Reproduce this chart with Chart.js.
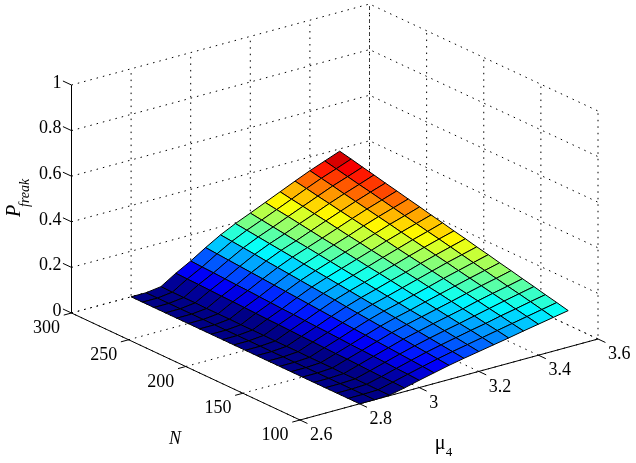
<!DOCTYPE html>
<html>
<head>
<meta charset="utf-8">
<script src="https://cdn.jsdelivr.net/npm/chart.js@4"></script>
<style>
  html, body { margin: 0; padding: 0; background: #fff; }
  #wrap { width: 636px; height: 463px; }
</style>
</head>
<body>
<div id="wrap"><canvas id="surface" width="636" height="463"></canvas></div>
<script>
// Surface data
const muValues = [2.8, 2.85, 2.9, 2.95, 3, 3.05, 3.1, 3.15, 3.2, 3.25, 3.3, 3.35, 3.4, 3.45, 3.5];
const nValues = [100, 110, 120, 130, 140, 150, 160, 170, 180, 190, 200, 210, 220, 230, 240, 250, 260, 270, 280, 290, 300];
// one row per mu, one column per N
const pFreak = [
  [.000, .000, .000, .000, .000, .000, .000, .000, .000, .000, .000, .000, .000, .000, .000, .000, .000, .000, .000, .000, .000],
  [.000, .000, .000, .000, .000, .000, .000, .000, .000, .000, .000, .000, .000, .000, .000, .000, .000, .000, .000, .000, .000],
  [.002, .002, .003, .003, .003, .004, .004, .004, .005, .005, .005, .006, .006, .006, .007, .007, .007, .008, .008, .008, .009],
  [.016, .018, .019, .021, .023, .025, .026, .028, .030, .031, .033, .035, .036, .038, .040, .042, .043, .045, .047, .048, .050],
  [.032, .035, .037, .040, .043, .046, .048, .051, .054, .056, .059, .062, .064, .067, .070, .073, .075, .078, .081, .083, .086],
  [.047, .051, .055, .059, .063, .067, .071, .075, .079, .083, .087, .091, .095, .099, .103, .107, .111, .115, .119, .123, .127],
  [.062, .067, .072, .077, .083, .088, .093, .098, .103, .108, .114, .119, .124, .129, .134, .139, .144, .150, .155, .160, .165],
  [.075, .081, .087, .093, .099, .106, .112, .118, .124, .130, .136, .142, .148, .154, .160, .167, .173, .179, .185, .191, .197],
  [.087, .094, .101, .108, .115, .122, .128, .135, .142, .149, .156, .163, .170, .177, .184, .191, .197, .204, .211, .218, .225],
  [.099, .107, .115, .122, .130, .138, .146, .153, .161, .169, .177, .184, .192, .200, .208, .215, .223, .231, .239, .246, .254],
  [.111, .120, .128, .137, .145, .154, .163, .171, .180, .188, .197, .206, .214, .223, .231, .240, .249, .257, .266, .274, .283],
  [.124, .133, .143, .152, .162, .171, .180, .190, .199, .209, .218, .227, .237, .246, .256, .265, .274, .284, .293, .303, .312],
  [.136, .146, .156, .167, .177, .187, .197, .207, .218, .228, .238, .248, .258, .269, .279, .289, .299, .309, .320, .330, .340],
  [.148, .159, .170, .181, .191, .202, .213, .224, .235, .246, .257, .267, .278, .289, .300, .311, .322, .332, .343, .354, .365],
  [.160, .172, .183, .195, .206, .218, .229, .241, .252, .264, .275, .287, .298, .310, .321, .333, .344, .356, .367, .379, .390]
];

const muTicks = [2.6, 2.8, 3, 3.2, 3.4, 3.6];
const nTicks = [100, 150, 200, 250, 300];
const pTicks = [0, 0.2, 0.4, 0.6, 0.8, 1];
const muTickLabels = ['2.6', '2.8', '3', '3.2', '3.4', '3.6'];
const nTickLabels = ['100', '150', '200', '250', '300'];
const pTickLabels = ['0', '0.2', '0.4', '0.6', '0.8', '1'];

const MU_MIN = 2.6, MU_MAX = 3.6, N_MIN = 100, N_MAX = 300;
const C_MAX = 0.39;

// Orthographic view of the 3d box onto the flat scales
function project(mu, n, p) {
  const u = (mu - MU_MIN) / (MU_MAX - MU_MIN);
  const v = (n - N_MIN) / (N_MAX - N_MIN);
  return {
    x: 300 + 298 * u - 228.5 * v,
    y: 420 - 81 * u - 107 * v - 228 * p
  };
}

// MATLAB jet, 64 levels
function jet(value) {
  const level = Math.min(63, Math.max(0, Math.floor(value / C_MAX * 64)));
  const t = (level + 0.5) / 64;
  const ch = d => Math.round(255 * Math.min(1, Math.max(0, 1.5 - Math.abs(4 * t - d))));
  return `rgb(${ch(3)},${ch(2)},${ch(1)})`;
}

function lineSet(points, opts) {
  return Object.assign({
    data: points,
    showLine: true,
    fill: false,
    pointRadius: 0,
    borderColor: '#000',
    borderWidth: 1,
    order: 1000
  }, opts);
}

const gridDash = { borderDash: [1.5, 5] };
const datasets = [];

// Walls and floor: dotted grid
pTicks.forEach(p => {
  datasets.push(lineSet([project(MU_MIN, N_MAX, p), project(MU_MAX, N_MAX, p), project(MU_MAX, N_MIN, p)], gridDash));
});
muTicks.forEach(mu => {
  datasets.push(lineSet([project(mu, N_MIN, 0), project(mu, N_MAX, 0), project(mu, N_MAX, 1)], gridDash));
});
nTicks.forEach(n => {
  datasets.push(lineSet([project(MU_MIN, n, 0), project(MU_MAX, n, 0), project(MU_MAX, n, 1)], gridDash));
});

// Solid axes and their tick marks
datasets.push(lineSet([project(MU_MIN, N_MAX, 1), project(MU_MIN, N_MAX, 0), project(MU_MIN, N_MIN, 0), project(MU_MAX, N_MIN, 0)], { order: 900 }));
pTicks.forEach(p => {
  datasets.push(lineSet([project(MU_MIN, N_MAX, p), project(MU_MIN, N_MAX + 7.5, p)], { order: 900 }));
});
nTicks.forEach(n => {
  datasets.push(lineSet([project(MU_MIN, n, 0), project(MU_MIN - 0.026, n, 0)], { order: 900 }));
});
muTicks.forEach(mu => {
  datasets.push(lineSet([project(mu, N_MIN, 0), project(mu, N_MIN - 6.5, 0)], { order: 900 }));
});

// Surface cells, nearest on top. Cell colour comes from its lowest-index corner
for (let i = 0; i < muValues.length - 1; i++) {
  for (let j = 0; j < nValues.length - 1; j++) {
    const corners = [
      project(muValues[i], nValues[j], pFreak[i][j]),
      project(muValues[i + 1], nValues[j], pFreak[i + 1][j]),
      project(muValues[i + 1], nValues[j + 1], pFreak[i + 1][j + 1]),
      project(muValues[i], nValues[j + 1], pFreak[i][j + 1])
    ];
    corners.push(corners[0]);
    datasets.push(lineSet(corners, {
      fill: 'shape',
      backgroundColor: jet(pFreak[i][j]),
      order: 100 + i * 30 + j
    }));
  }
}

const SERIF = '"Liberation Serif", serif';

const labelsPlugin = {
  id: 'labels',
  afterDraw(chart) {
    const ctx = chart.ctx;
    const sx = chart.scales.x, sy = chart.scales.y;
    const at = pt => ({ x: sx.getPixelForValue(pt.x), y: sy.getPixelForValue(pt.y) });
    ctx.save();
    ctx.fillStyle = '#000';
    ctx.textBaseline = 'middle';
    ctx.font = `18px ${SERIF}`;

    ctx.textAlign = 'right';
    pTicks.forEach((p, i) => {
      const pos = at(project(MU_MIN, N_MAX, p));
      ctx.fillText(pTickLabels[i], pos.x - 10, pos.y - 2);
    });
    nTicks.forEach((n, i) => {
      const pos = at(project(MU_MIN, n, 0));
      ctx.fillText(nTickLabels[i], pos.x - 11.5, pos.y + 15.5);
    });
    ctx.textAlign = 'left';
    muTicks.forEach((mu, i) => {
      const pos = at(project(mu, N_MIN, 0));
      ctx.fillText(muTickLabels[i], pos.x + 10, pos.y + 15.5);
    });

    // Axis titles
    ctx.textAlign = 'center';
    ctx.font = `italic 18px ${SERIF}`;
    ctx.fillText('N', 175, 439);
    ctx.font = `20px ${SERIF}`;
    ctx.fillText('\u03bc', 440, 444);
    ctx.font = `13px ${SERIF}`;
    ctx.fillText('4', 449, 453);

    ctx.translate(15, 207);
    ctx.rotate(-Math.PI / 2);
    ctx.textAlign = 'left';
    ctx.font = `italic 20px ${SERIF}`;
    ctx.fillText('P', -10, 0);
    ctx.font = `italic 14px ${SERIF}`;
    ctx.fillText('freak', 0, 10);
    ctx.restore();
  }
};

new Chart(document.getElementById('surface'), {
  type: 'scatter',
  data: { datasets },
  options: {
    responsive: false,
    animation: false,
    devicePixelRatio: 1,
    layout: { padding: 0 },
    elements: { line: { tension: 0 } },
    plugins: { legend: { display: false }, tooltip: { enabled: false } },
    scales: {
      x: { type: 'linear', min: 0, max: 636, display: false },
      y: { type: 'linear', min: 0, max: 463, reverse: true, display: false }
    }
  },
  plugins: [labelsPlugin]
});
</script>
</body>
</html>
